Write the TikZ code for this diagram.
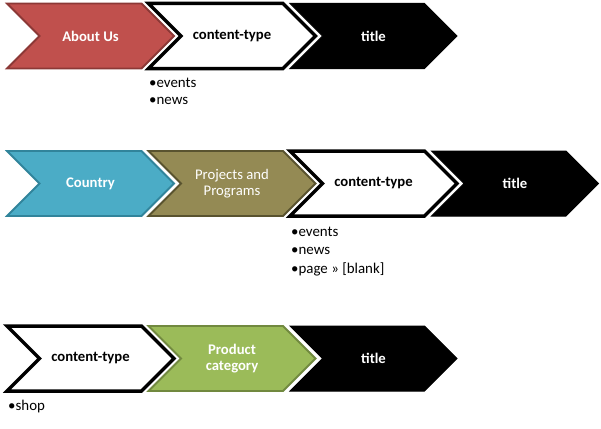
\documentclass[tikz,border=0pt]{standalone}
\usepackage{fontspec}
\setmainfont{Carlito}
\usepackage{tikz}
\usetikzlibrary{calc}

\definecolor{aboutred}{HTML}{C0504D}
\definecolor{aboutredline}{HTML}{8C3836}
\definecolor{countryblue}{HTML}{4BACC6}
\definecolor{countryblueline}{HTML}{31849B}
\definecolor{projolive}{HTML}{948A54}
\definecolor{projoliveline}{HTML}{59532F}
\definecolor{prodgreen}{HTML}{9BBB59}
\definecolor{prodgreenline}{HTML}{71893F}

% chevron: left x, top y, style
\newcommand{\chev}[3]{%
    \draw[#3, line join=miter] (#1,#2) -- ++(134.5,0) -- ++(32.5,32.5) -- ++(-32.5,32.5)
        -- ++(-134.5,0) -- ++(32.5,-32.5) -- cycle;}

\begin{document}
\begin{tikzpicture}[x=1pt, y=-1pt,
    redchev/.style={fill=aboutred, draw=aboutredline, line width=1.8pt},
    bluechev/.style={fill=countryblue, draw=countryblueline, line width=1.8pt},
    olivechev/.style={fill=projolive, draw=projoliveline, line width=1.8pt},
    greenchev/.style={fill=prodgreen, draw=prodgreenline, line width=1.8pt},
    whitechev/.style={fill=white, draw=black, line width=3.5pt},
    blackchev/.style={fill=black, draw=black, line width=1pt},
    lbl/.style={font=\fontsize{14.7}{16}\selectfont\bfseries, align=center},
    lblwhite/.style={lbl, text=white},
    bullet/.style={font=\fontsize{14.9}{18}\selectfont, anchor=west, inner sep=0pt}]
    \useasboundingbox (0,0) rectangle (601,428);
    % row 1
    \chev{7}{3.5}{redchev}
    \chev{148.5}{3.5}{whitechev}
    \chev{290}{3.5}{blackchev}
    \node[lblwhite] (aboutus) at (90.5,36) {About Us};
    \node[lbl] (ctype1) at (232,36) {content-type};
    \node[lblwhite] (title1) at (373.5,36) {title};
    \node[bullet] (ev1) at (149,83) {•events};
    \node[bullet] (nw1) at (149,101) {•news};
    % row 2
    \chev{7}{151}{bluechev}
    \chev{148.5}{151}{olivechev}
    \chev{290}{151}{whitechev}
    \chev{431.5}{151}{blackchev}
    \node[lblwhite] (country) at (90.5,183.5) {Country};
    \node[lblwhite, font=\fontsize{14.7}{16}\selectfont] (projects) at (232,183.5) {Projects and\\Programs};
    \node[lbl] (ctype2) at (373.5,183.5) {content-type};
    \node[lblwhite] (title2) at (515,183.5) {title};
    \node[bullet] (ev2) at (291,232) {•events};
    \node[bullet] (nw2) at (291,251) {•news};
    \node[bullet] (pg2) at (291,269) {•page » [blank]};
    % row 3
    \chev{7}{326}{whitechev}
    \chev{148.5}{326}{greenchev}
    \chev{290}{326}{blackchev}
    \node[lbl] (ctype3) at (90.5,358.5) {content-type};
    \node[lblwhite] (product) at (232,358.5) {Product\\category};
    \node[lblwhite] (title3) at (373.5,358.5) {title};
    \node[bullet] (shop) at (8,407) {•shop};
\end{tikzpicture}
\end{document}
